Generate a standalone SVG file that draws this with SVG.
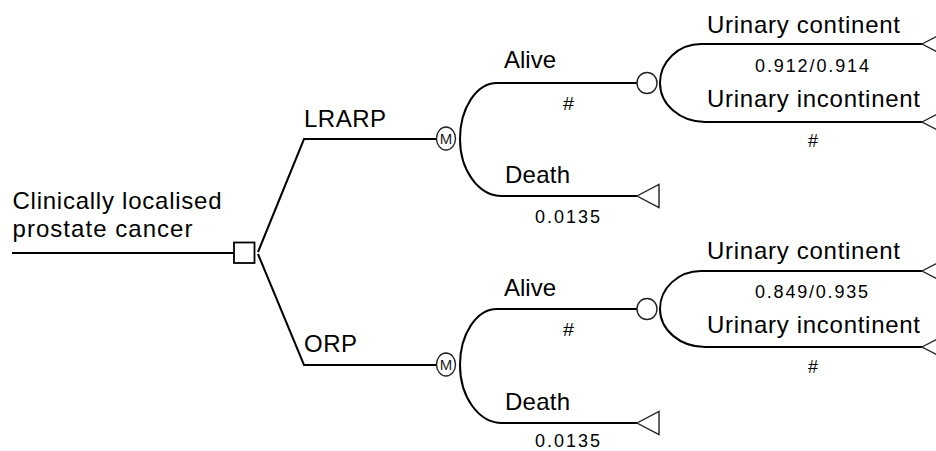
<svg xmlns="http://www.w3.org/2000/svg" width="936" height="451" viewBox="0 0 936 451">
<style>
  .bg { fill: #ffffff; }
  .edge { fill: none; stroke: #000; stroke-width: 2; }
  .node { fill: #fff; stroke: #222; stroke-width: 1.4; }
  .dec { fill: #fff; stroke: #000; stroke-width: 1.8; }
  .lbl { font-family: "Liberation Sans", Arial, sans-serif; font-size: 24px; fill: #000; }
  .num { font-family: "Liberation Sans", Arial, sans-serif; font-size: 18px; fill: #000; }
  .m { font-family: "Liberation Sans", Arial, sans-serif; font-size: 15px; fill: #222; text-anchor: middle; }
</style>
<rect class="bg" x="0" y="0" width="936" height="451"/>

<g id="connectors">
  <path class="edge" d="M 12 253 H 233"/>
  <path class="edge" d="M 258 252 L 304 139 H 436"/>
  <path class="edge" d="M 258 254 L 304 365 H 436"/>
  <!-- LRARP subtree -->
  <path class="edge" d="M 460 139 A 37 56 0 0 1 497 83 H 637"/>
  <path class="edge" d="M 460 139 A 42 57 0 0 0 502 196 H 637"/>
  <path class="edge" d="M 660 83 A 41 39 0 0 1 701 44 H 922"/>
  <path class="edge" d="M 660 83 A 45 39 0 0 0 705 122 H 922"/>
  <!-- ORP subtree -->
  <path class="edge" d="M 460 365 A 37 56 0 0 1 497 309 H 637"/>
  <path class="edge" d="M 460 365 A 42 58 0 0 0 502 423 H 637"/>
  <path class="edge" d="M 660 309 A 41 38 0 0 1 701 271 H 922"/>
  <path class="edge" d="M 660 309 A 45 38 0 0 0 705 347 H 922"/>
</g>

<g id="labels">
  <text class="lbl" x="12.5" y="209" textLength="209" lengthAdjust="spacing">Clinically localised</text>
  <text class="lbl" x="12.5" y="237" textLength="180" lengthAdjust="spacing">prostate cancer</text>
  <text class="lbl" x="304" y="127" textLength="82" lengthAdjust="spacing">LRARP</text>
  <text class="lbl" x="304" y="352" textLength="53" lengthAdjust="spacing">ORP</text>

  <text class="lbl" x="504" y="68" textLength="52" lengthAdjust="spacing">Alive</text>
  <text class="num" x="563" y="110" textLength="11" lengthAdjust="spacingAndGlyphs">#</text>
  <text class="lbl" x="505" y="183" textLength="65" lengthAdjust="spacing">Death</text>
  <text class="num" x="535" y="223" textLength="65" lengthAdjust="spacing">0.0135</text>
  <text class="lbl" x="707" y="33" textLength="193" lengthAdjust="spacing">Urinary continent</text>
  <text class="num" x="755" y="72" textLength="114" lengthAdjust="spacing">0.912/0.914</text>
  <text class="lbl" x="707" y="107" textLength="213" lengthAdjust="spacing">Urinary incontinent</text>
  <text class="num" x="808" y="147" textLength="10" lengthAdjust="spacingAndGlyphs">#</text>

  <text class="lbl" x="504" y="296" textLength="52" lengthAdjust="spacing">Alive</text>
  <text class="num" x="563" y="336" textLength="11" lengthAdjust="spacingAndGlyphs">#</text>
  <text class="lbl" x="505" y="410" textLength="65" lengthAdjust="spacing">Death</text>
  <text class="num" x="535" y="447" textLength="65" lengthAdjust="spacing">0.0135</text>
  <text class="lbl" x="707" y="259" textLength="193" lengthAdjust="spacing">Urinary continent</text>
  <text class="num" x="755" y="298" textLength="113" lengthAdjust="spacing">0.849/0.935</text>
  <text class="lbl" x="707" y="333" textLength="213" lengthAdjust="spacing">Urinary incontinent</text>
  <text class="num" x="808" y="373" textLength="10" lengthAdjust="spacingAndGlyphs">#</text>
</g>

<g id="decision-root">
  <rect class="dec" x="234" y="242.5" width="20.5" height="20.5"/>
</g>

<g id="markov-lrarp">
  <ellipse class="node" cx="446" cy="138.5" rx="9.5" ry="11.5"/>
  <text class="m" x="446" y="144">M</text>
</g>
<g id="markov-orp">
  <ellipse class="node" cx="446" cy="364.5" rx="9.5" ry="11.5"/>
  <text class="m" x="446" y="370">M</text>
</g>

<g id="chance-lrarp-alive">
  <ellipse class="node" cx="647" cy="83" rx="10" ry="10.5"/>
</g>
<g id="chance-orp-alive">
  <ellipse class="node" cx="647" cy="309" rx="10" ry="10.5"/>
</g>

<g id="terminal-lrarp-death">
  <polygon class="node" points="637,196 659,184.5 659,207.5"/>
</g>
<g id="terminal-lrarp-continent">
  <polygon class="node" points="922,44 944,32.5 944,55.5"/>
</g>
<g id="terminal-lrarp-incontinent">
  <polygon class="node" points="922,122 944,110.5 944,133.5"/>
</g>
<g id="terminal-orp-death">
  <polygon class="node" points="637,423 659,411.5 659,434.5"/>
</g>
<g id="terminal-orp-continent">
  <polygon class="node" points="922,271 944,259.5 944,282.5"/>
</g>
<g id="terminal-orp-incontinent">
  <polygon class="node" points="922,347 944,335.5 944,358.5"/>
</g>
</svg>
